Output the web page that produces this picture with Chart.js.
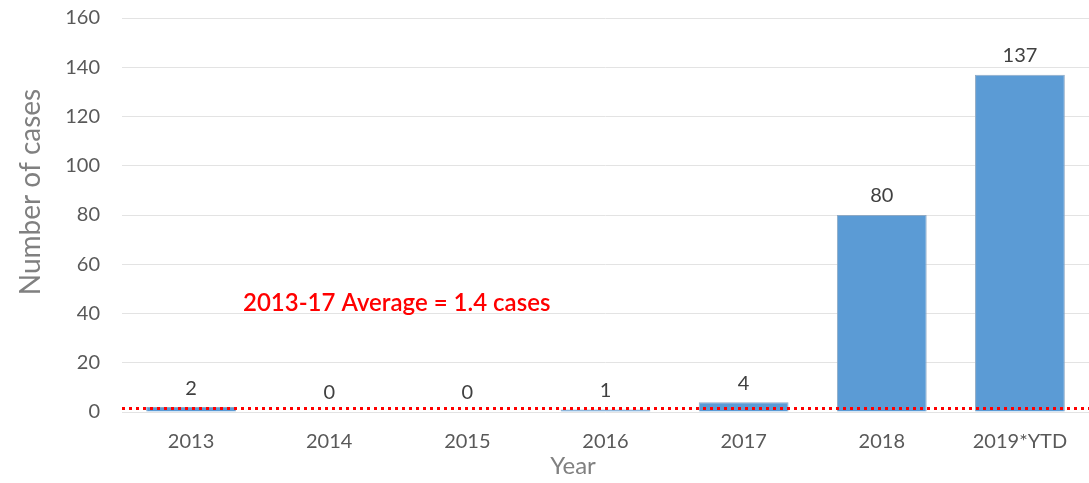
<!DOCTYPE html>
<html>
<head>
<meta charset="utf-8">
<script src="https://cdn.jsdelivr.net/npm/chart.js@4"></script>
<style>
  html, body { margin: 0; padding: 0; background: #fff; }
  #wrap { width: 1089px; height: 483px; }
</style>
</head>
<body>
<div id="wrap"><canvas id="chart"></canvas></div>
<script>
// data
const years = ['2013', '2014', '2015', '2016', '2017', '2018', '2019*YTD'];
const cases = [2, 0, 0, 1, 4, 80, 137];
const yTicks = [0, 20, 40, 60, 80, 100, 120, 140, 160];
const avgValue = 1.4;
const avgLabel = '2013-17 Average = 1.4 cases';

const fontName = 'Lato, "Liberation Sans", sans-serif';

// labels over the bars, dotted average line and titles
const extras = {
  id: 'extras',
  afterDatasetsDraw(chart) {
    const c = chart.ctx;
    const area = chart.chartArea;
    const y = chart.scales.y;
    const meta = chart.getDatasetMeta(0);

    c.save();
    c.font = '20px ' + fontName;
    c.fillStyle = '#404040';
    c.textAlign = 'center';
    c.textBaseline = 'middle';
    meta.data.forEach((bar, i) => {
      c.fillText(String(cases[i]), bar.x, bar.y - 19);
    });

    // average line
    const ay = y.getPixelForValue(avgValue);
    c.strokeStyle = '#ff0000';
    c.lineWidth = 3;
    c.setLineDash([3, 4]);
    c.beginPath();
    c.moveTo(area.left, ay);
    c.lineTo(chart.width, ay);
    c.stroke();
    c.setLineDash([]);

    c.font = '600 24px ' + fontName;
    c.fillStyle = '#ff0000';
    c.textAlign = 'left';
    c.fillText(avgLabel, area.left + 121, y.getPixelForValue(44));

    // axis titles
    c.font = '24px ' + fontName;
    c.fillStyle = '#808080';
    c.textAlign = 'center';
    c.fillText('Year', 573, 466);

    c.translate(31, 192);
    c.rotate(-Math.PI / 2);
    c.font = '28px ' + fontName;
    c.fillText('Number of cases', 0, 0);
    c.restore();
  }
};

new Chart(document.getElementById('chart').getContext('2d'), {
  type: 'bar',
  data: {
    labels: years,
    datasets: [{
      data: cases,
      backgroundColor: '#5b9bd5',
      borderColor: '#8ea9c4',
      borderWidth: 1,
      categoryPercentage: 1,
      barPercentage: 0.65
    }]
  },
  options: {
    responsive: true,
    maintainAspectRatio: false,
    animation: false,
    layout: { padding: { top: 18, right: -4, left: 0, bottom: 0 } },
    plugins: { legend: { display: false }, tooltip: { enabled: false } },
    scales: {
      x: {
        grid: { display: false, drawTicks: false },
        border: { display: false },
        ticks: { color: '#595959', font: { family: fontName, size: 20 }, padding: 18 },
        afterFit(s) { s.height = 71; s.paddingLeft = 0; s.paddingRight = 0; }
      },
      y: {
        min: 0,
        max: 160,
        afterBuildTicks(s) { s.ticks = yTicks.map(v => ({ value: v })); },
        grid: { color: '#e3e3e3', lineWidth: 1, drawTicks: false },
        border: { display: false },
        ticks: { color: '#595959', font: { family: fontName, size: 20 }, padding: 22 },
        afterFit(s) { s.width = 122; s.paddingTop = 0; s.paddingBottom = 0; }
      }
    }
  },
  plugins: [extras]
});
</script>
</body>
</html>
